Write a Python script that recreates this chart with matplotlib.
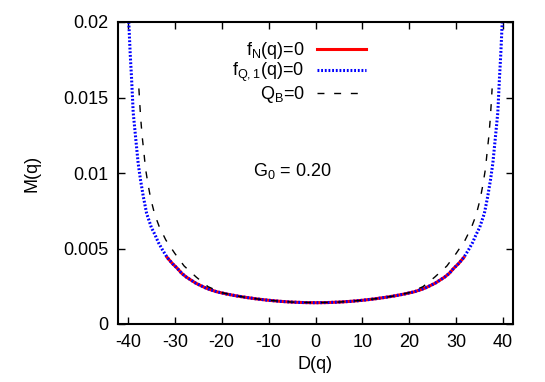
import numpy as np
import matplotlib
matplotlib.use('Agg')
import matplotlib.pyplot as plt
from matplotlib.ticker import FormatStrFormatter

plt.rcParams['font.family'] = ['Liberation Sans', 'DejaVu Sans']
plt.rcParams['mathtext.default'] = 'regular'
plt.rcParams['axes.unicode_minus'] = False

# left half of each curve (curves are symmetric in D)
d_fn = [-31.6, -30.5, -29.5, -28.5, -27.5, -26.5, -25.5, -24.5, -23.5, -22.5, -21.0,
        -19.0, -17.0, -15.0, -12.5, -10.0, -7.5, -5.0, -2.5, 0.0]
m_fn = [0.0044, 0.0040, 0.0037, 0.00335, 0.0031, 0.0029, 0.0027, 0.00255, 0.0024, 0.00228, 0.00213,
        0.00199, 0.00187, 0.00177, 0.00166, 0.00157, 0.0015, 0.00145, 0.00142, 0.00141]

d_fq = [-39.8, -39.5, -39.2, -38.86, -38.5, -38.15, -37.8, -37.3, -36.7, -36.0, -35.0,
        -34.2, -33.5, -32.6, -31.6, -30.5, -29.5, -28.5, -27.5, -26.5, -25.5, -24.5, -23.5,
        -22.5, -21.0, -19.0, -17.0, -15.0, -12.5, -10.0, -7.5, -5.0, -2.5, 0.0]
m_fq = [0.0200, 0.0179, 0.0162, 0.0140, 0.01285, 0.01174, 0.01064, 0.00954, 0.00843, 0.00733, 0.0064,
        0.0059, 0.0054, 0.0049, 0.0044, 0.0040, 0.0037, 0.00335, 0.0031, 0.0029, 0.0027, 0.00255, 0.0024,
        0.00228, 0.00213, 0.00199, 0.00187, 0.00177, 0.00166, 0.00157, 0.0015, 0.00145, 0.00142, 0.00141]

d_qb = [-37.65, -37.44, -37.23, -36.94, -36.59, -36.24, -35.67, -35.1, -34.24, -33.31, -31.9,
        -30.0, -28.0, -25.4, -22.9, -20.0, -17.0, -14.0, -10.0, -5.0, 0.0]
m_qb = [0.0156, 0.0145, 0.0135, 0.0124, 0.0114, 0.0103, 0.0092, 0.00826, 0.00722, 0.00645, 0.00556,
        0.00468, 0.00384, 0.0031, 0.00247, 0.00208, 0.00187, 0.00172, 0.00157, 0.00145, 0.00141]

labels = ['f$_N$(q)=0', 'f$_{Q,1}$(q)=0', 'Q$_B$=0']
xticks = [-40, -30, -20, -10, 0, 10, 20, 30, 40]
yticks = [0, 0.005, 0.01, 0.015, 0.02]


def mirror(d, m):
    d = np.array(d)
    m = np.array(m)
    return np.concatenate([d, -d[::-1][1:]]), np.concatenate([m, m[::-1][1:]])


fig = plt.figure(figsize=(5.45, 3.82), dpi=100)
ax = fig.add_axes([118 / 545, 58 / 382, 395 / 545, 302 / 382])

x, y = mirror(d_fn, m_fn)
ax.plot(x, y, color='red', lw=2.2, label=labels[0])
x, y = mirror(d_fq, m_fq)
ax.plot(x, y, color='blue', lw=2.2, ls=(0, (0.6, 0.6)), label=labels[1])
x, y = mirror(d_qb, m_qb)
ax.plot(x, y, color='black', lw=1.0, ls=(0, (5, 7)), label=labels[2])

ax.set_xlim(-42.1, 42.1)
ax.set_ylim(0, 0.02)
ax.set_xticks(xticks)
ax.set_yticks(yticks)
ax.yaxis.set_major_formatter(FormatStrFormatter('%g'))
ax.tick_params(direction='in', length=5, width=1, top=True, right=True, labelsize=13, pad=7)
for s in ax.spines.values():
    s.set_linewidth(1.5)

ax.set_xlabel('D(q)', fontsize=13, labelpad=4)
ax.set_ylabel('M(q)', fontsize=13, labelpad=16)
ax.text(-5.0, 0.0101, 'G$_0$ = 0.20', fontsize=13, ha='center', va='center')

ax.legend(loc='upper right', bbox_to_anchor=(366 / 545, 1 - 40 / 382), bbox_transform=fig.transFigure,
          frameon=False, markerfirst=False, fontsize=13, handlelength=2.7, handletextpad=0.7,
          labelspacing=0.0, borderpad=0, borderaxespad=0)

fig.savefig('out.png', dpi=100)
